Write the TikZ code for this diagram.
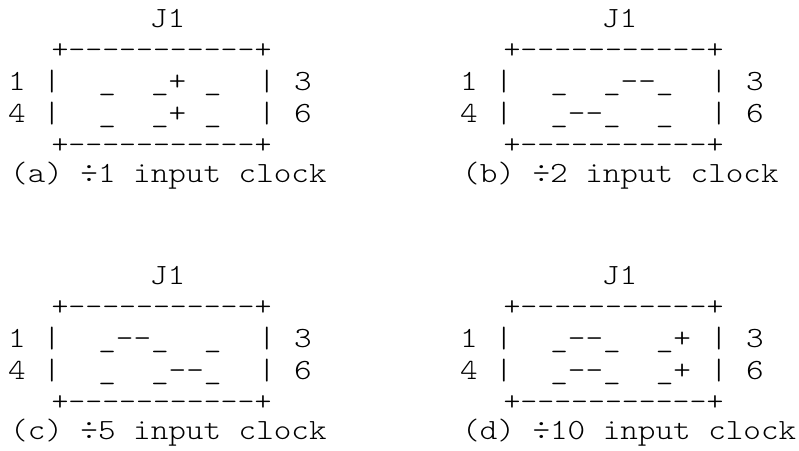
\documentclass[tikz,border=0pt]{standalone}
\usepackage{fontspec}
\setmonofont{lmmonolt10-regular.otf}[FakeStretch=1.143]
\begin{document}
\begin{tikzpicture}[x=1pt, y=-1pt,
  txt/.style={font=\ttfamily\fontsize{29.3}{30}\selectfont, inner sep=0pt, anchor=base},
  row/.style={txt, anchor=base west},
  rim/.style={font=\ttfamily\fontsize{28.2}{30}\selectfont, inner sep=0pt, anchor=base}]
\useasboundingbox (0,0) rectangle (799,450);
% (a)
\begin{scope}
\node[txt] (ja) at (167.5,27) {J1};
\node[rim] (topa) at (161.5,58.4) {+-----------+};
\node[txt] (pa1) at (17,90) {1};
\node[txt] (la1) at (52,90) {|};
\node[row] (ma1) at (98.2,90) {\_~~\_+~\_};
\node[txt] (ra1) at (267,90) {|};
\node[txt] (pa3) at (303,90) {3};
\node[txt] (pa4) at (17,122) {4};
\node[txt] (la2) at (52,122) {|};
\node[row] (ma2) at (98.2,122) {\_~~\_+~\_};
\node[txt] (ra2) at (267,122) {|};
\node[txt] (pa6) at (303,122) {6};
\node[rim] (bota) at (161.5,153.4) {+-----------+};
\node[row] (capa) at (10,182) {(a) ÷1 input clock};
\end{scope}
% (b)
\begin{scope}[xshift=452pt]
\node[txt] (jb) at (167.5,27) {J1};
\node[rim] (topb) at (161.5,58.4) {+-----------+};
\node[txt] (pb1) at (17,90) {1};
\node[txt] (lb1) at (52,90) {|};
\node[row] (mb1) at (98.2,90) {\_~~\_--\_};
\node[txt] (rb1) at (267,90) {|};
\node[txt] (pb3) at (303,90) {3};
\node[txt] (pb4) at (17,122) {4};
\node[txt] (lb2) at (52,122) {|};
\node[row] (mb2) at (98.2,122) {\_--\_~~\_};
\node[txt] (rb2) at (267,122) {|};
\node[txt] (pb6) at (303,122) {6};
\node[rim] (botb) at (161.5,153.4) {+-----------+};
\node[row] (capb) at (10,182) {(b) ÷2 input clock};
\end{scope}
% (c)
\begin{scope}[yshift=-257pt]
\node[txt] (jc) at (167.5,27) {J1};
\node[rim] (topc) at (161.5,58.4) {+-----------+};
\node[txt] (pc1) at (17,90) {1};
\node[txt] (lc1) at (52,90) {|};
\node[row] (mc1) at (98.2,90) {\_--\_~~\_};
\node[txt] (rc1) at (267,90) {|};
\node[txt] (pc3) at (303,90) {3};
\node[txt] (pc4) at (17,122) {4};
\node[txt] (lc2) at (52,122) {|};
\node[row] (mc2) at (98.2,122) {\_~~\_--\_};
\node[txt] (rc2) at (267,122) {|};
\node[txt] (pc6) at (303,122) {6};
\node[rim] (botc) at (161.5,153.4) {+-----------+};
\node[row] (capc) at (10,182) {(c) ÷5 input clock};
\end{scope}
% (d)
\begin{scope}[xshift=452pt, yshift=-257pt]
\node[txt] (jd) at (167.5,27) {J1};
\node[rim] (topd) at (161.5,58.4) {+-----------+};
\node[txt] (pd1) at (17,90) {1};
\node[txt] (ld1) at (52,90) {|};
\node[row] (md1) at (98.2,90) {\_--\_~~\_+};
\node[txt] (rd1) at (267,90) {|};
\node[txt] (pd3) at (303,90) {3};
\node[txt] (pd4) at (17,122) {4};
\node[txt] (ld2) at (52,122) {|};
\node[row] (md2) at (98.2,122) {\_--\_~~\_+};
\node[txt] (rd2) at (267,122) {|};
\node[txt] (pd6) at (303,122) {6};
\node[rim] (botd) at (161.5,153.4) {+-----------+};
\node[row] (capd) at (10,182) {(d) ÷10 input clock};
\end{scope}
\end{tikzpicture}
\end{document}
